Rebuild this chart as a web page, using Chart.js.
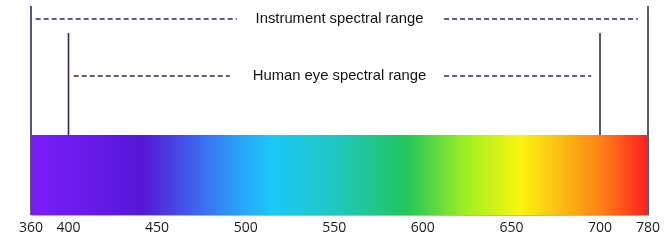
<!DOCTYPE html>
<html><head><meta charset="utf-8">
<script src="https://cdn.jsdelivr.net/npm/chart.js@4/dist/chart.umd.min.js"></script>
<style>html,body{margin:0;padding:0;background:#fff}#wrap{width:668px;height:240px;position:relative}</style>
</head><body><div id="wrap"><canvas id="c"></canvas></div>
<script>
// ---- data ----
const tickWavelengths = [360, 400, 450, 500, 550, 600, 650, 700, 780];
const instrumentRange = [360, 780];
const eyeRange = [400, 700];
const stopWavelengths = [360, 400, 442, 474, 493, 515, 550, 591, 625, 655, 698, 780];
const stopColors = ['#7a1ef8', '#6e1cf0', '#5418d6', '#3a6af0', '#2a9cf8', '#1cc8f8', '#1fc8c0', '#22c55c', '#a0f020', '#f8f510', '#fc8a14', '#fc2020'];
const instrumentDashes = [[365, 495], [612, 763]];
const eyeDashes = [[403, 491], [612, 695]];
const rangeLabels = ['Instrument spectral range', 'Human eye spectral range'];
const labelLevels = [196, 139];
const dashLevels = [196, 139];
const spectrumTop = 80;
const instrumentLineTop = 209;
const eyeLineTop = 182;

// ---- piecewise (broken) wavelength scale ----
class SpectralScale extends Chart.LinearScale {
  static id = 'spectral';
  static defaults = Chart.LinearScale.defaults;
  buildTicks() { return (this.options.tickValues || []).map(v => ({ value: v })); }
  _frac(v) {
    const b = this.options.breaks, f = this.options.breakFractions;
    for (let i = 0; i < b.length - 1; i++) {
      if (v <= b[i + 1] || i === b.length - 2) return f[i] + (v - b[i]) / (b[i + 1] - b[i]) * (f[i + 1] - f[i]);
    }
  }
  getPixelForValue(v) { return v == null ? NaN : this.getPixelForDecimal(this._frac(v)); }
  getValueForPixel(p) {
    const d = this.getDecimalForPixel(p), b = this.options.breaks, f = this.options.breakFractions;
    for (let i = 0; i < b.length - 1; i++) {
      if (d <= f[i + 1] || i === b.length - 2) return b[i] + (d - f[i]) / (f[i + 1] - f[i]) * (b[i + 1] - b[i]);
    }
  }
}
Chart.register(SpectralScale);

const lineColor = '#2b2b55';
function vline(w, top, order) {
  return { data: [{ x: w, y: 0 }, { x: w, y: top }], borderColor: lineColor, borderWidth: 1.6, pointRadius: 0, order: order, clip: false };
}
function hdash(seg, lvl) {
  return { data: [{ x: seg[0], y: lvl }, { x: seg[1], y: lvl }], borderColor: lineColor, borderWidth: 1.4, borderDash: [5, 3], pointRadius: 0, order: 2 };
}

const datasets = [
  {
    data: [{ x: instrumentRange[0], y: spectrumTop }, { x: instrumentRange[1], y: spectrumTop }],
    fill: 'origin', borderWidth: 0, pointRadius: 0, order: 1,
    backgroundColor: (ctx) => {
      const chart = ctx.chart; if (!chart.chartArea) return 'transparent';
      const xs = chart.scales.x;
      const x0 = xs.getPixelForValue(instrumentRange[0]), x1 = xs.getPixelForValue(instrumentRange[1]);
      const g = chart.ctx.createLinearGradient(x0, 0, x1, 0);
      stopWavelengths.forEach((w, i) => g.addColorStop((xs.getPixelForValue(w) - x0) / (x1 - x0), stopColors[i]));
      return g;
    }
  },
  vline(instrumentRange[0], instrumentLineTop, 2), vline(instrumentRange[1], instrumentLineTop, 2),
  vline(eyeRange[0], eyeLineTop, 2), vline(eyeRange[1], eyeLineTop, 2),
  ...instrumentDashes.map(s => hdash(s, dashLevels[0])),
  ...eyeDashes.map(s => hdash(s, dashLevels[1]))
];

const rangeLabelPlugin = {
  id: 'rangeLabels',
  afterDatasetsDraw(chart) {
    const { ctx, chartArea, scales: { y } } = chart;
    ctx.save();
    ctx.font = '14.8px "Liberation Sans", Arial, sans-serif';
    ctx.fillStyle = '#111';
    ctx.textAlign = 'center';
    ctx.textBaseline = 'middle';
    const cx = (chartArea.left + chartArea.right) / 2;
    rangeLabels.forEach((t, i) => ctx.fillText(t, cx, y.getPixelForValue(labelLevels[i])));
    ctx.restore();
  }
};

new Chart(document.getElementById('c'), {
  type: 'line',
  data: { datasets },
  plugins: [rangeLabelPlugin],
  options: {
    responsive: true, maintainAspectRatio: false, animation: false,
    layout: { padding: { left: 31, right: 20, top: 0, bottom: 0 } },
    plugins: { legend: { display: false }, tooltip: { enabled: false } },
    scales: {
      x: {
        type: 'spectral', min: 360, max: 780, position: 'bottom',
        tickValues: tickWavelengths,
        breaks: [360, 400, 700, 780],
        breakFractions: [0, 0.0608, 0.9222, 1],
        grid: { display: false, drawTicks: false },
        border: { display: true, color: '#b8b8b8', width: 1 },
        ticks: { autoSkip: false, maxRotation: 0, padding: 5, color: '#1a1a1a', font: { family: '"Open Sans", sans-serif', size: 14 } },
        afterFit: (s) => { s.height = 25; }
      },
      y: { type: 'linear', min: 0, max: 215, display: false }
    }
  }
});
</script>
</body></html>
